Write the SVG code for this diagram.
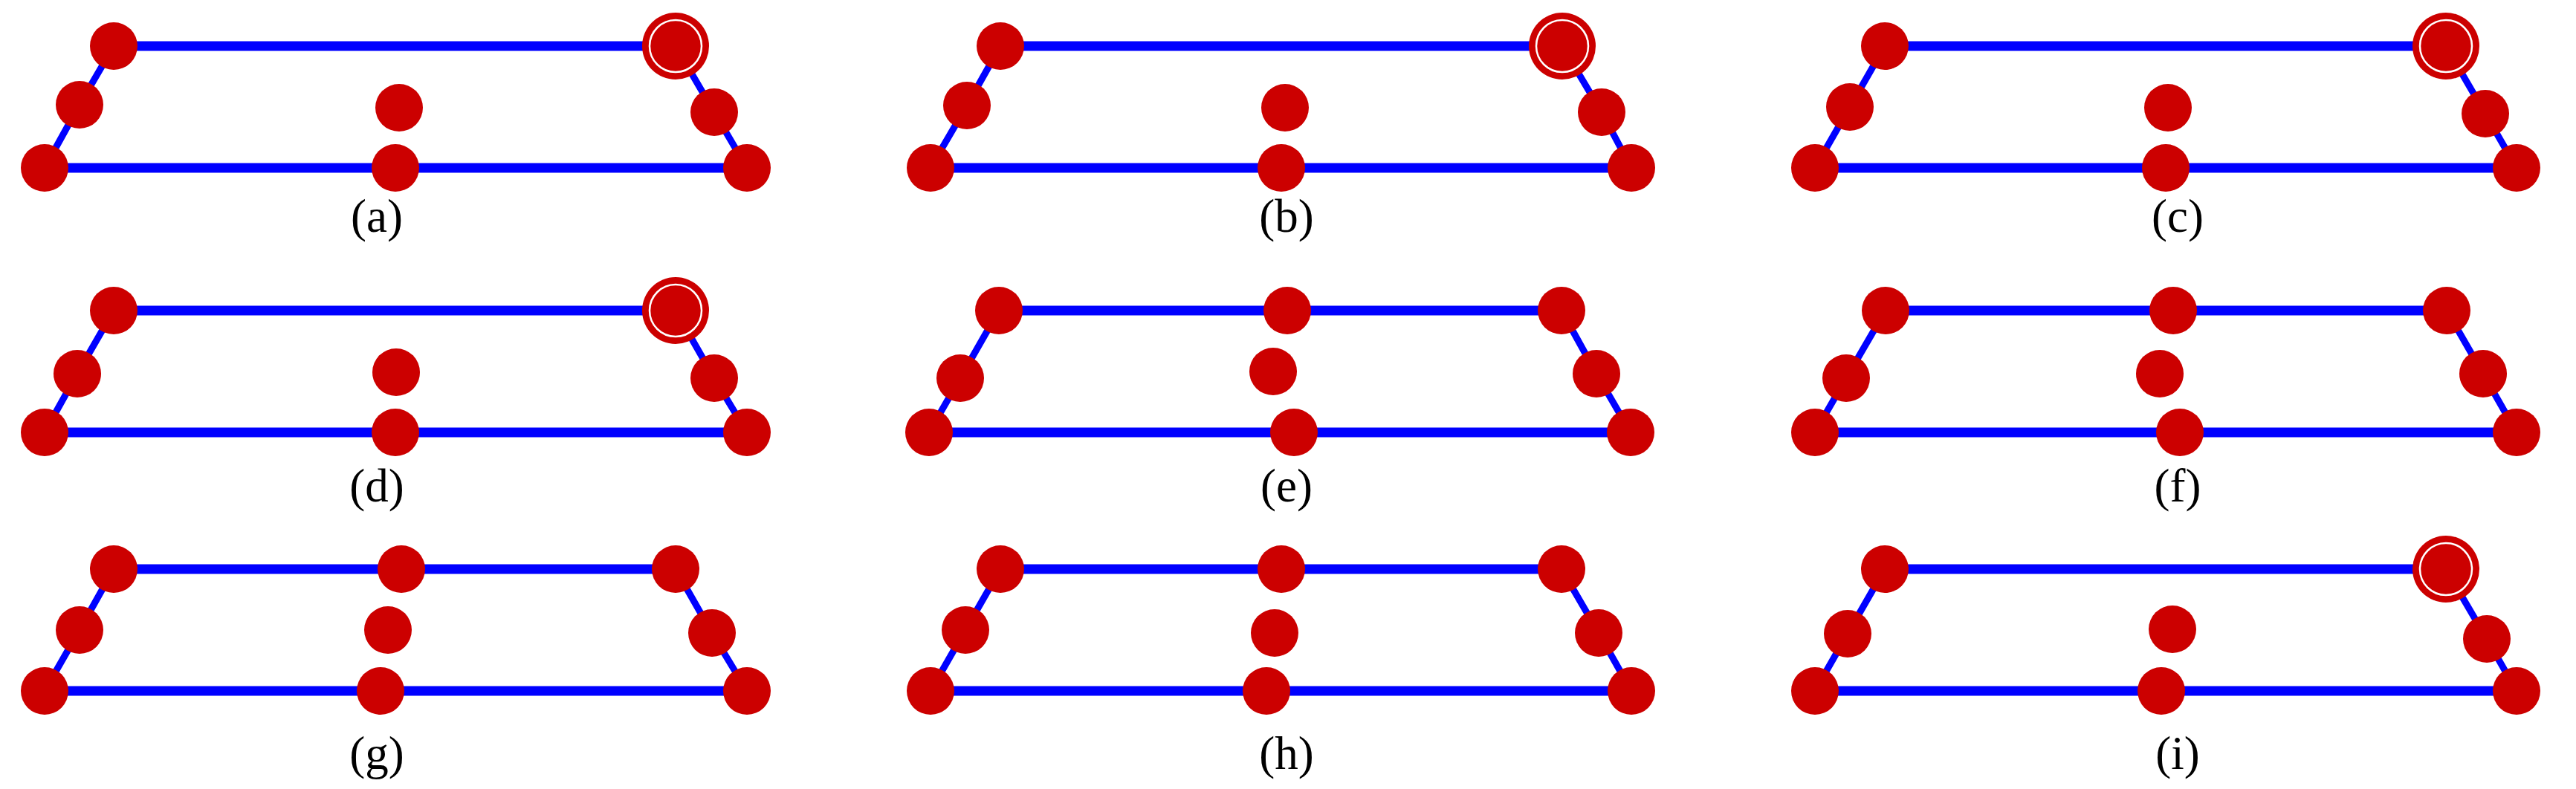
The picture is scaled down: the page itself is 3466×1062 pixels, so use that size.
<svg xmlns="http://www.w3.org/2000/svg" width="3466" height="1062" viewBox="0 0 3466 1062">
<style>
.h{stroke:#0000FF;stroke-width:13;fill:none}
.d{stroke:#0000FF;stroke-width:9;fill:none}
.n{fill:#CC0000}
.ring{fill:none;stroke:#FFFFFF;stroke-width:2.5}
.lbl{font-family:"Liberation Serif","Times New Roman",serif;font-size:63px;fill:#000;text-anchor:middle}
</style>
<defs>
<circle id="node" r="32" class="n"/>
<g id="hnode"><circle r="45" class="n"/><circle r="35" class="ring"/></g>
</defs>
<rect width="3466" height="1062" fill="#FFFFFF"/>

<g id="connectors">
<!-- a -->
<polyline class="h" points="153,62 909,62"/>
<polyline class="h" points="60,226 532,226 1005,226"/>
<polyline class="d" points="153,62 107,141 60,226"/>
<polyline class="d" points="909,62 961,151 1005,226"/>
<!-- b -->
<polyline class="h" points="1346,62 2102,62"/>
<polyline class="h" points="1252,226 1724,226 2195,226"/>
<polyline class="d" points="1346,62 1301,142 1252,226"/>
<polyline class="d" points="2102,62 2155,151 2195,226"/>
<!-- c -->
<polyline class="h" points="2536,62 3291,62"/>
<polyline class="h" points="2442,226 2914,226 3386,226"/>
<polyline class="d" points="2536,62 2489,144 2442,226"/>
<polyline class="d" points="3291,62 3344,153 3386,226"/>
<!-- d -->
<polyline class="h" points="153,418 909,418"/>
<polyline class="h" points="60,582 532,582 1005,582"/>
<polyline class="d" points="153,418 104,503 60,582"/>
<polyline class="d" points="909,418 961,509 1005,582"/>
<!-- e -->
<polyline class="h" points="1344,418 1732,418 2101,418"/>
<polyline class="h" points="1250,582 1741,582 2194,582"/>
<polyline class="d" points="1344,418 1292,509 1250,582"/>
<polyline class="d" points="2101,418 2148,503 2194,582"/>
<!-- f -->
<polyline class="h" points="2537,418 2924,418 3292,418"/>
<polyline class="h" points="2442,582 2933,582 3386,582"/>
<polyline class="d" points="2537,418 2484,509 2442,582"/>
<polyline class="d" points="3292,418 3341,503 3386,582"/>
<!-- g -->
<polyline class="h" points="153,766 540,766 909,766"/>
<polyline class="h" points="60,930 512,930 1005,930"/>
<polyline class="d" points="153,766 107,848 60,930"/>
<polyline class="d" points="909,766 958,852 1005,930"/>
<!-- h -->
<polyline class="h" points="1346,766 1724,766 2101,766"/>
<polyline class="h" points="1252,930 1704,930 2195,930"/>
<polyline class="d" points="1346,766 1299,848 1252,930"/>
<polyline class="d" points="2101,766 2151,852 2195,930"/>
<!-- i -->
<polyline class="h" points="2536,766 3291,766"/>
<polyline class="h" points="2442,930 2908,930 3386,930"/>
<polyline class="d" points="2536,766 2486,853 2442,930"/>
<polyline class="d" points="3291,766 3346,860 3386,930"/>
</g>

<g id="panel-a">
<g id="a-tl"><use href="#node" x="153" y="62"/></g>
<g id="a-ml"><use href="#node" x="107" y="141"/></g>
<g id="a-bl"><use href="#node" x="60" y="226"/></g>
<g id="a-mu"><use href="#node" x="537" y="145"/></g>
<g id="a-mb"><use href="#node" x="532" y="226"/></g>
<g id="a-tr"><use href="#hnode" x="909" y="62"/></g>
<g id="a-rm"><use href="#node" x="961" y="151"/></g>
<g id="a-br"><use href="#node" x="1005" y="226"/></g>
<text class="lbl" x="507" y="312">(a)</text>
</g>

<g id="panel-b">
<g id="b-tl"><use href="#node" x="1346" y="62"/></g>
<g id="b-ml"><use href="#node" x="1301" y="142"/></g>
<g id="b-bl"><use href="#node" x="1252" y="226"/></g>
<g id="b-mu"><use href="#node" x="1729" y="145"/></g>
<g id="b-mb"><use href="#node" x="1724" y="226"/></g>
<g id="b-tr"><use href="#hnode" x="2102" y="62"/></g>
<g id="b-rm"><use href="#node" x="2155" y="151"/></g>
<g id="b-br"><use href="#node" x="2195" y="226"/></g>
<text class="lbl" x="1731" y="312">(b)</text>
</g>

<g id="panel-c">
<g id="c-tl"><use href="#node" x="2536" y="62"/></g>
<g id="c-ml"><use href="#node" x="2489" y="144"/></g>
<g id="c-bl"><use href="#node" x="2442" y="226"/></g>
<g id="c-mu"><use href="#node" x="2917" y="145"/></g>
<g id="c-mb"><use href="#node" x="2914" y="226"/></g>
<g id="c-tr"><use href="#hnode" x="3291" y="62"/></g>
<g id="c-rm"><use href="#node" x="3344" y="153"/></g>
<g id="c-br"><use href="#node" x="3386" y="226"/></g>
<text class="lbl" x="2930" y="312">(c)</text>
</g>

<g id="panel-d">
<g id="d-tl"><use href="#node" x="153" y="418"/></g>
<g id="d-ml"><use href="#node" x="104" y="503"/></g>
<g id="d-bl"><use href="#node" x="60" y="582"/></g>
<g id="d-mu"><use href="#node" x="533" y="501"/></g>
<g id="d-mb"><use href="#node" x="532" y="582"/></g>
<g id="d-tr"><use href="#hnode" x="909" y="418"/></g>
<g id="d-rm"><use href="#node" x="961" y="509"/></g>
<g id="d-br"><use href="#node" x="1005" y="582"/></g>
<text class="lbl" x="507" y="675">(d)</text>
</g>

<g id="panel-e">
<g id="e-tl"><use href="#node" x="1344" y="418"/></g>
<g id="e-ml"><use href="#node" x="1292" y="509"/></g>
<g id="e-bl"><use href="#node" x="1250" y="582"/></g>
<g id="e-tu"><use href="#node" x="1732" y="418"/></g>
<g id="e-mu"><use href="#node" x="1713" y="500"/></g>
<g id="e-mb"><use href="#node" x="1741" y="582"/></g>
<g id="e-tr"><use href="#node" x="2101" y="418"/></g>
<g id="e-rm"><use href="#node" x="2148" y="503"/></g>
<g id="e-br"><use href="#node" x="2194" y="582"/></g>
<text class="lbl" x="1731" y="675">(e)</text>
</g>

<g id="panel-f">
<g id="f-tl"><use href="#node" x="2537" y="418"/></g>
<g id="f-ml"><use href="#node" x="2484" y="509"/></g>
<g id="f-bl"><use href="#node" x="2442" y="582"/></g>
<g id="f-tu"><use href="#node" x="2924" y="418"/></g>
<g id="f-mu"><use href="#node" x="2906" y="503"/></g>
<g id="f-mb"><use href="#node" x="2933" y="582"/></g>
<g id="f-tr"><use href="#node" x="3292" y="418"/></g>
<g id="f-rm"><use href="#node" x="3341" y="503"/></g>
<g id="f-br"><use href="#node" x="3386" y="582"/></g>
<text class="lbl" x="2930" y="675">(f)</text>
</g>

<g id="panel-g">
<g id="g-tl"><use href="#node" x="153" y="766"/></g>
<g id="g-ml"><use href="#node" x="107" y="848"/></g>
<g id="g-bl"><use href="#node" x="60" y="930"/></g>
<g id="g-tu"><use href="#node" x="540" y="766"/></g>
<g id="g-mu"><use href="#node" x="522" y="848"/></g>
<g id="g-mb"><use href="#node" x="512" y="930"/></g>
<g id="g-tr"><use href="#node" x="909" y="766"/></g>
<g id="g-rm"><use href="#node" x="958" y="852"/></g>
<g id="g-br"><use href="#node" x="1005" y="930"/></g>
<text class="lbl" x="507" y="1035">(g)</text>
</g>

<g id="panel-h">
<g id="h-tl"><use href="#node" x="1346" y="766"/></g>
<g id="h-ml"><use href="#node" x="1299" y="848"/></g>
<g id="h-bl"><use href="#node" x="1252" y="930"/></g>
<g id="h-tu"><use href="#node" x="1724" y="766"/></g>
<g id="h-mu"><use href="#node" x="1715" y="852"/></g>
<g id="h-mb"><use href="#node" x="1704" y="930"/></g>
<g id="h-tr"><use href="#node" x="2101" y="766"/></g>
<g id="h-rm"><use href="#node" x="2151" y="852"/></g>
<g id="h-br"><use href="#node" x="2195" y="930"/></g>
<text class="lbl" x="1731" y="1035">(h)</text>
</g>

<g id="panel-i">
<g id="i-tl"><use href="#node" x="2536" y="766"/></g>
<g id="i-ml"><use href="#node" x="2486" y="853"/></g>
<g id="i-bl"><use href="#node" x="2442" y="930"/></g>
<g id="i-mu"><use href="#node" x="2923" y="847"/></g>
<g id="i-mb"><use href="#node" x="2908" y="930"/></g>
<g id="i-tr"><use href="#hnode" x="3291" y="766"/></g>
<g id="i-rm"><use href="#node" x="3346" y="860"/></g>
<g id="i-br"><use href="#node" x="3386" y="930"/></g>
<text class="lbl" x="2930" y="1035">(i)</text>
</g>
</svg>
